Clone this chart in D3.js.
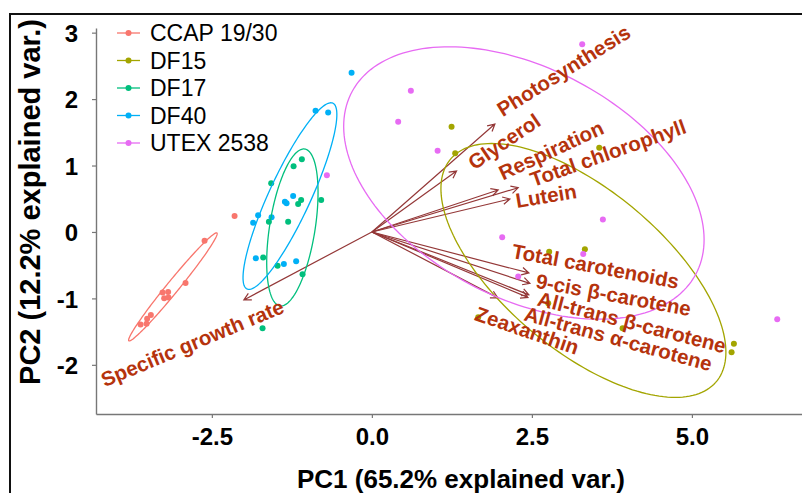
<!DOCTYPE html>
<html>
<head>
<meta charset="utf-8">
<script src="https://cdn.jsdelivr.net/npm/d3@7"></script>
<style>
body { margin: 0; background: #fff; }
svg { display: block; font-family: "Liberation Sans", Arial, sans-serif; }
</style>
</head>
<body>
<svg id="chart" width="802" height="493"></svg>
<script>
// groups and their colours (ggplot hue palette)
var groups = ["CCAP 19/30", "DF15", "DF17", "DF40", "UTEX 2538"];
var groupColors = ["#F8766D", "#A3A500", "#00BF7D", "#00B0F6", "#E76BF3"];

// PCA scores
var ccapX = [-2.145, -2.614, -2.911, -3.270, -3.183, -3.245, -3.177, -3.453, -3.511, -3.520, -3.614];
var ccapY = [0.241, -0.131, -0.767, -0.913, -0.902, -0.997, -0.988, -1.248, -1.308, -1.383, -1.394];
var df15X = [1.245, 1.302, 3.552, 2.770, 3.328, 2.755, 1.661, 3.917, 5.656, 5.620];
var df15Y = [1.583, 1.183, 1.268, -0.296, -0.260, -1.072, -1.283, -1.448, -1.684, -1.809];
var df17X = [-1.094, -1.223, -1.573, -1.105, -1.152, -0.792, -1.609, -1.308, -1.698, -1.473, -1.083, -1.708];
var df17Y = [1.093, 0.988, 0.732, 0.481, 0.421, 0.481, 0.155, 0.155, -0.386, -0.507, -0.636, -1.448];
var df40X = [-0.317, -0.880, -0.683, -1.230, -1.359, -1.333, -1.777, -1.567, -1.855, -1.813, -1.375, -1.183];
var df40Y = [2.395, 1.824, 1.800, 0.541, 0.456, 0.432, 0.251, 0.221, 0.140, -0.395, -0.481, -0.441];
var utexX = [-0.703, 0.609, 0.411, 1.027, 3.286, 3.609, 2.036, 3.302, 2.286, 6.333];
var utexY = [0.853, 2.125, 1.659, 1.223, 2.827, 0.188, -0.080, -0.331, -0.672, -1.313];

// 68% ellipses: centre, semi axes and tilt (degrees) in data units
var ellCx = [-3.109, 3.305, -1.242, -1.280, 2.375];
var ellCy = [-0.827, -0.579, 0.068, 0.540, 0.737];
var ellA = [1.064, 2.668, 1.196, 1.551, 3.017];
var ellB = [0.092, 1.22, 0.355, 0.323, 1.74];
var ellAngle = [49.7, -38.3, 80.6, 64.3, -26.1];

// loadings (arrow tips) and label anchors
var varNames = ["Photosynthesis", "Glycerol", "Respiration", "Total chlorophyll", "Lutein",
  "Total carotenoids", "9-cis β-carotene", "All-trans β-carotene", "All-trans α-carotene",
  "Zeaxanthin", "Specific growth rate"];
var varX = [1.922, 1.323, 1.973, 2.286, 2.156, 2.453, 2.469, 2.453, 2.438, 1.969, -2.0];
var varY = [1.624, 0.917, 0.632, 0.666, 0.496, -0.617, -0.774, -0.947, -0.985, -0.992, -1.023];
var labelX = [1.984, 1.536, 2.003, 2.484, 2.247, 2.194, 2.567, 2.597, 2.391, 1.625, -4.217];
var labelY = [1.820, 1.016, 0.871, 0.777, 0.466, -0.280, -0.732, -0.997, -1.220, -1.218, -2.239];
var labelAngle = [-32, -34, -25, -19.5, -9.5, 10.6, 10.4, 14.4, 15.4, 19, -22.6];

var xTicks = [-2.5, 0, 2.5, 5];
var yTicks = [-2, -1, 0, 1, 2, 3];

var scoresX = [ccapX, df15X, df17X, df40X, utexX];
var scoresY = [ccapY, df15Y, df17Y, df40Y, utexY];

var svg = d3.select("#chart");

var x = d3.scaleLinear().domain([-4.31, 6.72]).range([96, 802]);
var y = d3.scaleLinear().domain([-2.74, 3.07]).range([414, 28]);

// plain hyphen minus like R prints it
function hyphen(fmt) {
  return function(d) { return fmt(d).replace("\u2212", "-"); };
}

// figure frame
svg.append("path")
  .attr("d", "M10,494 L10,14 L803,14")
  .attr("fill", "none").attr("stroke", "#111").attr("stroke-width", 2);

// axes
var xAxis = svg.append("g")
  .attr("transform", "translate(0,414)")
  .call(d3.axisBottom(x).tickValues(xTicks).tickFormat(hyphen(d3.format(".1f"))).tickSize(4).tickSizeOuter(0).tickPadding(10));
var yAxis = svg.append("g")
  .attr("transform", "translate(96,0)")
  .call(d3.axisLeft(y).tickValues(yTicks).tickFormat(hyphen(d3.format("d"))).tickSize(4).tickSizeOuter(0).tickPadding(14));

[xAxis, yAxis].forEach(function(ax) {
  ax.select(".domain").attr("stroke", "#777").attr("stroke-width", 1.4);
  ax.selectAll(".tick line").attr("stroke", "#777").attr("stroke-width", 1.2);
  ax.selectAll(".tick text")
    .attr("fill", "#000")
    .style("font-family", "'Liberation Sans', Arial, sans-serif")
    .style("font-size", "24px")
    .style("font-weight", "bold");
});
yAxis.selectAll(".tick text").attr("dy", "0.36em");

// axis titles
svg.append("text")
  .attr("x", 461).attr("y", 488)
  .attr("text-anchor", "middle")
  .style("font-size", "26px").style("font-weight", "bold")
  .text("PC1 (65.2% explained var.)");
svg.append("text")
  .attr("transform", "translate(40,202) rotate(-90)")
  .attr("text-anchor", "middle")
  .style("font-size", "29px").style("font-weight", "bold")
  .text("PC2 (12.2% explained var.)");

var arrowColor = "#943838";
var labelColor = "#b5330d";

// loading arrows
var arrows = svg.append("g");
varNames.forEach(function(name, i) {
  var x0 = x(0), y0 = y(0), x1 = x(varX[i]), y1 = y(varY[i]);
  var th = Math.atan2(y1 - y0, x1 - x0);
  var L = 8, spread = 28 * Math.PI / 180;
  var p = d3.path();
  p.moveTo(x0, y0); p.lineTo(x1, y1);
  p.moveTo(x1 - L * Math.cos(th - spread), y1 - L * Math.sin(th - spread));
  p.lineTo(x1, y1);
  p.lineTo(x1 - L * Math.cos(th + spread), y1 - L * Math.sin(th + spread));
  arrows.append("path")
    .attr("d", p.toString())
    .attr("fill", "none")
    .attr("stroke", arrowColor)
    .attr("stroke-width", 1.2);
});

// points
groups.forEach(function(g, gi) {
  svg.append("g").selectAll("circle")
    .data(d3.range(scoresX[gi].length))
    .enter().append("circle")
    .attr("cx", function(k) { return x(scoresX[gi][k]); })
    .attr("cy", function(k) { return y(scoresY[gi][k]); })
    .attr("r", 3)
    .attr("fill", groupColors[gi]);
});

// ellipses
var ellLine = d3.line()
  .x(function(d) { return x(d[0]); })
  .y(function(d) { return y(d[1]); })
  .curve(d3.curveLinearClosed);
groups.forEach(function(g, gi) {
  var phi = ellAngle[gi] * Math.PI / 180;
  var pts = d3.range(0, 2 * Math.PI, Math.PI / 90).map(function(t) {
    var u = ellA[gi] * Math.cos(t), v = ellB[gi] * Math.sin(t);
    return [ellCx[gi] + u * Math.cos(phi) - v * Math.sin(phi),
            ellCy[gi] + u * Math.sin(phi) + v * Math.cos(phi)];
  });
  svg.append("path")
    .attr("d", ellLine(pts))
    .attr("fill", "none")
    .attr("stroke", groupColors[gi])
    .attr("stroke-width", 1.3);
});

// variable labels
varNames.forEach(function(name, i) {
  svg.append("text")
    .attr("transform", "translate(" + x(labelX[i]) + "," + y(labelY[i]) + ") rotate(" + labelAngle[i] + ")")
    .attr("dy", "0.35em")
    .attr("fill", labelColor)
    .style("font-size", "20.5px").style("font-weight", "bold")
    .text(name);
});

// legend
var legend = svg.append("g");
groups.forEach(function(g, gi) {
  var ly = 33 + gi * 27.5;
  legend.append("line")
    .attr("x1", 117).attr("x2", 140).attr("y1", ly).attr("y2", ly)
    .attr("stroke", groupColors[gi]).attr("stroke-width", 1.3);
  legend.append("circle")
    .attr("cx", 128.5).attr("cy", ly).attr("r", 3)
    .attr("fill", groupColors[gi]);
  legend.append("text")
    .attr("x", 150).attr("y", ly).attr("dy", "0.36em")
    .style("font-size", "23px")
    .attr("fill", "#000")
    .text(g);
});
</script>
</body>
</html>
